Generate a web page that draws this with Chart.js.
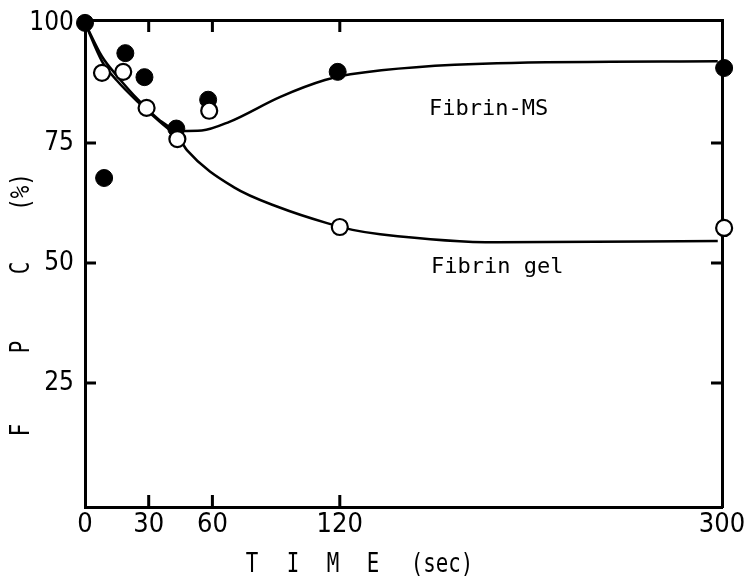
<!DOCTYPE html>
<html>
<head>
<meta charset="utf-8">
<script src="https://cdn.jsdelivr.net/npm/chart.js@4.4.1/dist/chart.umd.min.js"></script>
<style>
  html, body { margin: 0; padding: 0; background: #fff; }
  canvas { display: block; }
</style>
</head>
<body>
<canvas id="c" width="750" height="579"></canvas>
<script>
// ---- data ----
const xTicks = [0, 30, 60, 120, 300];
const yTicks = [0, 25, 50, 75, 100];
const innerTicksX = [30, 60, 120];
const innerTicksY = [25, 50, 75];

// Fibrin-MS (filled circles)
const msX = [0, 9, 19, 28, 43, 58, 119, 301];
const msY = [100, 67.7, 93.7, 88.7, 78, 84, 89.8, 90.6];
// Fibrin gel (open circles; its 0 s point is hidden under the filled one)
const gelX = [8, 18, 29, 43.5, 58.5, 120, 301];
const gelY = [89.6, 89.8, 82.3, 75.8, 81.7, 57.5, 57.3];

// fitted curves
const msCurveX = [0, 8, 15, 25, 35, 45, 55, 68, 92, 113, 125, 194, 298];
const msCurveY = [100, 93, 89, 84, 79.8, 77.5, 77.6, 79.4, 84.6, 88.1, 89.3, 91.6, 92];
const gelCurveX = [0, 8, 15, 25, 35, 45, 48, 70, 92, 114, 126, 139, 194, 298];
const gelCurveY = [100, 92, 88, 83.5, 79.5, 75.5, 73.5, 65.8, 61.5, 58.3, 56.9, 56, 54.3, 54.6];

const xTitle = ["T", "I", "M", "E", "(sec)"];
const yTitle = ["F", "P", "C", "(%)"];
const seriesLabels = ["Fibrin-MS", "Fibrin gel"];

const pts = (xs, ys) => xs.map((x, i) => ({ x: x, y: ys[i] }));

const NARROW = "'Liberation Sans Narrow', 'DejaVu Sans Condensed', 'Roboto Condensed', sans-serif";
const MONO = "'DejaVu Sans Mono', 'Liberation Mono', monospace";

const decor = {
  id: 'decor',
  beforeDatasetsDraw(chart) {
    const ctx = chart.ctx, a = chart.chartArea;
    const xs = chart.scales.x, ys = chart.scales.y;
    ctx.save();
    ctx.strokeStyle = '#000';
    ctx.lineWidth = 3;
    ctx.beginPath();
    innerTicksX.forEach(v => {
      const px = xs.getPixelForValue(v);
      ctx.moveTo(px, a.bottom); ctx.lineTo(px, a.bottom - 12);
      ctx.moveTo(px, a.top); ctx.lineTo(px, a.top + 12);
    });
    innerTicksY.forEach(v => {
      const py = ys.getPixelForValue(v);
      ctx.moveTo(a.left, py); ctx.lineTo(a.left + 11, py);
      ctx.moveTo(a.right, py); ctx.lineTo(a.right - 11, py);
    });
    ctx.stroke();

    // series labels
    ctx.fillStyle = '#000';
    ctx.font = '22px ' + MONO;
    ctx.textBaseline = 'alphabetic';
    ctx.textAlign = 'left';
    ctx.fillText(seriesLabels[0], xs.getPixelForValue(162), ys.getPixelForValue(80.8));
    ctx.fillText(seriesLabels[1], xs.getPixelForValue(163), ys.getPixelForValue(48));

    // x title
    ctx.font = '26px ' + MONO;
    ctx.textAlign = 'center';
    ctx.textBaseline = 'middle';
    const xPos = [252, 293, 333, 373, 442];
    xTitle.forEach((t, i) => {
      ctx.save();
      ctx.translate(xPos[i], 565);
      ctx.scale(0.8, 1);
      ctx.fillText(t, 0, 0);
      ctx.restore();
    });
    // y title (rotated)
    const yPos = [430, 347, 268, 192];
    yTitle.forEach((t, i) => {
      ctx.save();
      ctx.translate(22, yPos[i]);
      ctx.rotate(-Math.PI / 2);
      ctx.scale(0.8, 1);
      ctx.fillText(t, 0, 0);
      ctx.restore();
    });
    ctx.restore();
  }
};

const fixedTicks = vals => (scale) => { scale.ticks = vals.map(v => ({ value: v })); };

new Chart(document.getElementById('c'), {
  type: 'scatter',
  data: {
    datasets: [
      {
        label: 'Fibrin gel',
        data: pts(gelX, gelY),
        pointRadius: 8,
        pointBorderWidth: 2.2,
        pointBackgroundColor: '#fff',
        pointBorderColor: '#000',
        showLine: false,
        clip: false,
        order: 0
      },
      {
        label: 'Fibrin-MS',
        data: pts(msX, msY),
        pointRadius: 8.5,
        pointBorderWidth: 1,
        pointBackgroundColor: '#000',
        pointBorderColor: '#000',
        showLine: false,
        clip: false,
        order: 1
      },
      {
        label: 'MS curve',
        data: pts(msCurveX, msCurveY),
        showLine: true,
        pointRadius: 0,
        borderColor: '#000',
        borderWidth: 2.5,
        cubicInterpolationMode: 'monotone',
        order: 2
      },
      {
        label: 'gel curve',
        data: pts(gelCurveX, gelCurveY),
        showLine: true,
        pointRadius: 0,
        borderColor: '#000',
        borderWidth: 2.5,
        cubicInterpolationMode: 'monotone',
        order: 2
      }
    ]
  },
  options: {
    responsive: false,
    animation: false,
    layout: { padding: 0 },
    plugins: { legend: { display: false }, tooltip: { enabled: false } },
    scales: {
      x: {
        type: 'linear', position: 'bottom', min: 0, max: 300,
        afterBuildTicks: fixedTicks(xTicks),
        afterFit: s => { s.height = 72; s.paddingLeft = 0; s.paddingRight = 0; },
        grid: { display: false, drawTicks: false },
        border: { display: true, color: '#000', width: 3 },
        ticks: { color: '#000', padding: 2, maxRotation: 0, autoSkip: false,
                 font: { family: NARROW, size: 27 } }
      },
      x2: {
        type: 'linear', position: 'top', min: 0, max: 300,
        afterFit: s => { s.height = 20; },
        grid: { display: false, drawTicks: false },
        border: { display: true, color: '#000', width: 3 },
        ticks: { display: false }
      },
      y: {
        type: 'linear', position: 'left', min: -0.8, max: 100.6,
        afterBuildTicks: fixedTicks(yTicks),
        afterFit: s => { s.width = 85; s.paddingTop = 0; s.paddingBottom = 0; },
        grid: { display: false, drawTicks: false },
        border: { display: true, color: '#000', width: 3 },
        ticks: { color: '#000', padding: 11, autoSkip: false,
                 font: { family: NARROW, size: 26 },
                 callback: v => (v === 0 ? '' : String(v)) }
      },
      y2: {
        type: 'linear', position: 'right', min: -0.8, max: 100.6,
        afterFit: s => { s.width = 28; },
        grid: { display: false, drawTicks: false },
        border: { display: true, color: '#000', width: 3 },
        ticks: { display: false }
      }
    }
  },
  plugins: [decor]
});
</script>
</body>
</html>
